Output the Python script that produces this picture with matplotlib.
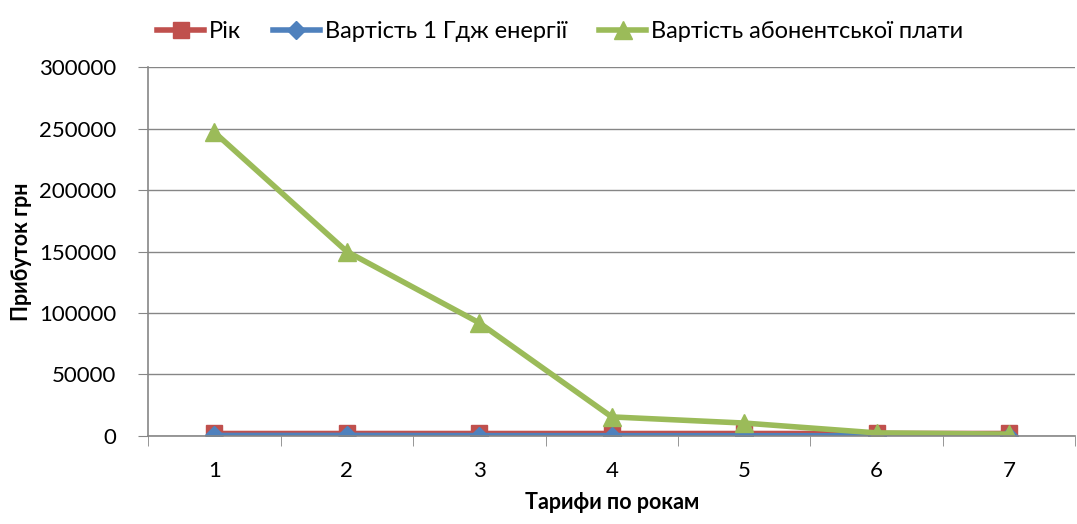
import numpy as np
import matplotlib.pyplot as plt

plt.rcParams['font.family'] = ['Lato', 'Noto Sans', 'DejaVu Sans']

# тарифи по роках
categories = [1, 2, 3, 4, 5, 6, 7]
rik = [2010, 2011, 2012, 2013, 2014, 2015, 2016]
energy_cost = [420, 460, 300, 250, 230, 180, 150]
subscription = [247000, 150000, 92000, 15500, 10500, 2500, 1500]

red = '#C0504D'
blue = '#4F81BD'
green = '#9BBB59'

fig = plt.figure(figsize=(10.77, 5.24), dpi=100)
ax = fig.add_axes([0.1375, 0.168, 0.861, 0.704])

x = np.arange(len(categories))
ax.plot(x, rik, color=red, lw=4, marker='s', ms=11, label='Рік')
ax.plot(x, energy_cost, color=blue, lw=4, marker='D', ms=9, label='Вартість 1 Гдж енергії')
ax.plot(x, subscription, color=green, lw=4, marker='^', ms=13, label='Вартість абонентської плати')

ax.set_xlim(-0.5, len(categories) - 0.5)
ax.set_ylim(0, 300000)
ax.set_yticks(np.arange(0, 300001, 50000))
ax.set_xticks(x)
ax.set_xticklabels([str(c) for c in categories])
ax.set_xticks(np.arange(-0.5, len(categories)), minor=True)
ax.tick_params(axis='x', which='major', length=0, pad=18, labelsize=16)
ax.tick_params(axis='x', which='minor', length=7, color='#868686')
ax.tick_params(axis='y', length=7, color='#868686', labelsize=16, pad=16)

ax.grid(axis='y', color='#868686', lw=1)
ax.set_axisbelow(True)
for s in ['top', 'right']:
    ax.spines[s].set_visible(False)
for s in ['left', 'bottom']:
    ax.spines[s].set_color('#868686')
    ax.spines[s].set_linewidth(1.2)

ax.set_xlabel('Тарифи по рокам', fontsize=15.5, fontweight='bold', labelpad=8)
ax.set_ylabel('Прибуток грн', fontsize=15.5, fontweight='bold', labelpad=5)

fig.legend(loc='upper center', bbox_to_anchor=(0.52, 1.0), ncol=3, frameon=False,
           fontsize=17, handlelength=2.0, handletextpad=0.2, columnspacing=1.35)

fig.savefig('out.png', dpi=100)
